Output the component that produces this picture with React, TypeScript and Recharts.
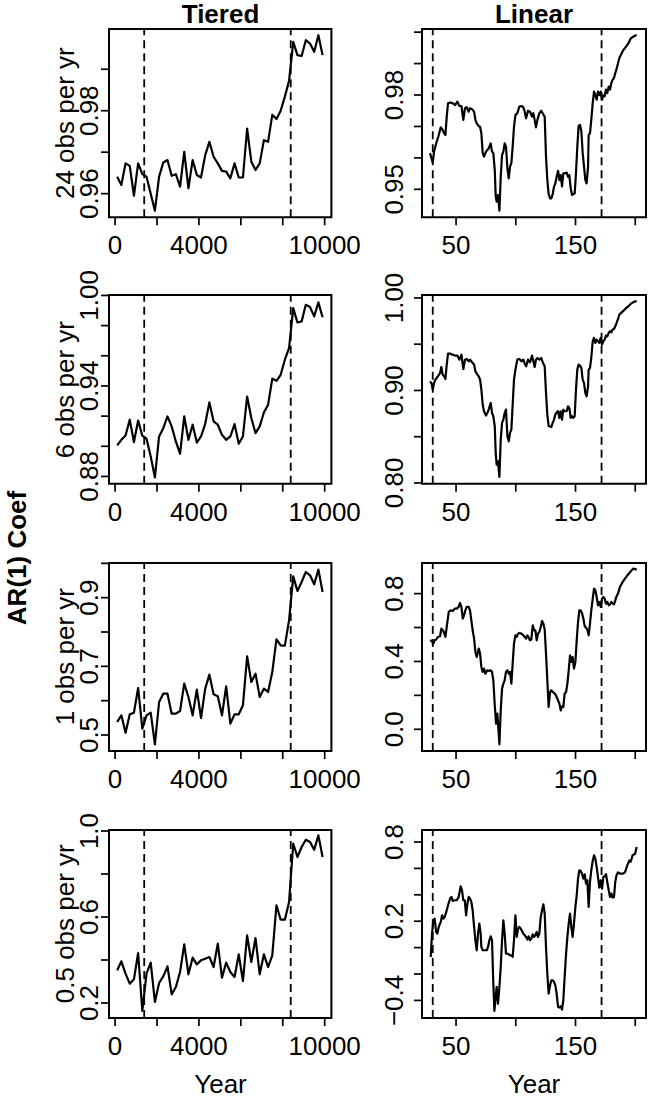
import React from "react";
import { LineChart, Line, XAxis, YAxis, ReferenceLine, ReferenceArea } from "recharts";

const FONT = "'Liberation Sans', Arial, Helvetica, sans-serif";
const FS = 26;

// tiered sampling: one estimate every 200 years
const tieredYears = [
  100, 300, 500, 700, 900, 1100, 1300, 1500, 1700, 1900,
  2100, 2300, 2500, 2700, 2900, 3100, 3300, 3500, 3700, 3900,
  4100, 4300, 4500, 4700, 4900, 5100, 5300, 5500, 5700, 5900,
  6100, 6300, 6500, 6700, 6900, 7100, 7300, 7500, 7700, 7900,
  8100, 8300, 8500, 8700, 8900, 9100, 9300, 9500, 9700, 9900,
];

const tiered24 = [
  0.9641, 0.9621, 0.9673, 0.9667, 0.9595, 0.9673, 0.9647, 0.9641, 0.96, 0.9559,
  0.9641, 0.9675, 0.9681, 0.9643, 0.9647, 0.9617, 0.9701, 0.9613, 0.9681, 0.9645,
  0.9639, 0.9693, 0.9725, 0.9689, 0.9673, 0.9655, 0.9653, 0.9637, 0.9673, 0.9639,
  0.9639, 0.9757, 0.9677, 0.9657, 0.9673, 0.9729, 0.9725, 0.979, 0.978, 0.98,
  0.9834, 0.9872, 0.9966, 0.9934, 0.9932, 0.997, 0.9962, 0.9942, 0.9982, 0.9934,
];

const tiered6 = [
  0.9006, 0.9043, 0.9072, 0.9176, 0.9028, 0.9171, 0.907, 0.905, 0.8933, 0.8793,
  0.9065, 0.912, 0.9198, 0.9132, 0.9032, 0.895, 0.9198, 0.9043, 0.9143, 0.9025,
  0.9065, 0.9149, 0.9291, 0.9165, 0.9143, 0.9076, 0.9043, 0.9065, 0.9147, 0.9017,
  0.9065, 0.933, 0.9187, 0.9087, 0.9132, 0.9224, 0.9275, 0.9448, 0.9434, 0.9474,
  0.9574, 0.9651, 0.9916, 0.9821, 0.9828, 0.9938, 0.9923, 0.9861, 0.9954, 0.9855,
];

const tiered1 = [
  0.5379, 0.5573, 0.5068, 0.5602, 0.5651, 0.6369, 0.5184, 0.5573, 0.5651, 0.4728,
  0.5961, 0.6204, 0.6204, 0.5621, 0.5621, 0.5699, 0.6495, 0.6107, 0.5573, 0.6321,
  0.5495, 0.635, 0.6758, 0.6185, 0.6126, 0.5573, 0.6418, 0.533, 0.5602, 0.5602,
  0.5864, 0.7292, 0.6544, 0.6787, 0.6107, 0.635, 0.6253, 0.6835, 0.7787, 0.7612,
  0.7602, 0.834, 0.9622, 0.9195, 0.9457, 0.9748, 0.9651, 0.9389, 0.9816, 0.9166,
];

const tiered05 = [
  0.3519, 0.3938, 0.3364, 0.2899, 0.3101, 0.4326, 0.1628, 0.3364, 0.3876, 0.2047,
  0.293, 0.324, 0.3705, 0.2403, 0.2744, 0.3442, 0.4729, 0.3333, 0.4108, 0.3798,
  0.3984, 0.4062, 0.4139, 0.3674, 0.4759, 0.3178, 0.3876, 0.3442, 0.3209, 0.4263,
  0.3023, 0.5147, 0.3907, 0.5023, 0.3333, 0.4263, 0.3674, 0.4217, 0.6542, 0.5875,
  0.5875, 0.6697, 0.9409, 0.8789, 0.9254, 0.9595, 0.9487, 0.913, 0.9797, 0.879,
];

// linear sampling: [year, coef]
const linear24: [number, number][] = [
  [28.2, 0.9615], [30.5, 0.9585], [31.6, 0.962], [33.8, 0.9652], [35.2, 0.9668], [37.2, 0.9697],
  [38.8, 0.9689], [40.0, 0.9678], [41.1, 0.9673], [42.2, 0.9731], [43.3, 0.9774], [45.0, 0.9776],
  [47.2, 0.9774], [49.2, 0.9768], [51.1, 0.9779], [52.8, 0.9765], [54.5, 0.9765], [56.1, 0.9721],
  [57.5, 0.9758], [58.9, 0.9761], [60.6, 0.9747], [61.7, 0.9758], [63.4, 0.9755], [65.1, 0.9747],
  [66.2, 0.9721], [67.3, 0.971], [69.0, 0.9701], [70.1, 0.9699], [71.2, 0.9678], [72.3, 0.9615],
  [73.4, 0.9604], [75.1, 0.962], [76.2, 0.9625], [77.3, 0.963], [79.0, 0.9646], [80.1, 0.962],
  [81.2, 0.9615], [82.4, 0.9562], [83.2, 0.9477], [84.0, 0.9461], [85.1, 0.9482], [86.3, 0.9432],
  [87.4, 0.954], [88.5, 0.9609], [89.6, 0.962], [90.7, 0.9646], [91.8, 0.9636], [93.0, 0.9567],
  [94.1, 0.9535], [95.2, 0.9572], [96.3, 0.9583], [97.4, 0.9636], [98.5, 0.9699], [99.7, 0.9736],
  [101.3, 0.9742], [103.0, 0.9763], [104.7, 0.9765], [106.3, 0.9761], [107.5, 0.9747], [108.6, 0.9726],
  [110.3, 0.975], [111.9, 0.9747], [113.6, 0.9731], [114.7, 0.9742], [115.8, 0.9721], [116.9, 0.9697],
  [118.1, 0.9721], [119.7, 0.9742], [121.4, 0.975], [122.5, 0.9742], [124.2, 0.9731], [125.3, 0.9604],
  [126.4, 0.953], [127.5, 0.9485], [128.7, 0.9471], [129.8, 0.9471], [130.9, 0.9485], [132.0, 0.9508],
  [133.1, 0.9519], [134.2, 0.954], [135.4, 0.9559], [136.5, 0.9529], [137.6, 0.9545], [138.7, 0.9509],
  [139.8, 0.9551], [140.9, 0.9551], [142.6, 0.9553], [143.7, 0.954], [144.8, 0.9545], [146.0, 0.9503],
  [147.1, 0.9482], [148.2, 0.9485], [149.3, 0.9487], [150.4, 0.9551], [151.5, 0.9636], [152.6, 0.9702],
  [153.8, 0.9705], [154.9, 0.9684], [156.0, 0.9615], [157.1, 0.9573], [158.2, 0.953], [159.3, 0.9519],
  [160.5, 0.9572], [161.0, 0.9673], [162.1, 0.9678], [163.2, 0.9721], [164.4, 0.9774], [165.5, 0.9811],
  [166.6, 0.98], [167.7, 0.9785], [168.8, 0.9811], [169.9, 0.98], [171.1, 0.9811], [172.2, 0.9785],
  [173.3, 0.9798], [174.4, 0.9796], [175.5, 0.9817], [176.6, 0.9806], [177.8, 0.9827], [178.9, 0.9817],
  [180.0, 0.9838], [181.1, 0.9849], [182.2, 0.9854], [183.3, 0.987], [184.4, 0.9883], [185.6, 0.9902],
  [186.7, 0.9918], [190.0, 0.9943], [192.3, 0.9954], [194.2, 0.9964], [196.2, 0.998], [198.4, 0.9986],
  [201.2, 0.9991],
];

const linear6: [number, number][] = [
  [28.2, 0.9099], [29.6, 0.9074], [30.5, 0.9009], [31.6, 0.9081], [32.7, 0.9117], [33.8, 0.9135],
  [35.2, 0.916], [36.6, 0.9189], [37.7, 0.9254], [38.8, 0.9171], [40.0, 0.9153], [41.1, 0.9124],
  [42.2, 0.9279], [43.3, 0.9398], [45.0, 0.9398], [47.2, 0.9387], [49.2, 0.9377], [51.1, 0.9377],
  [52.8, 0.9333], [54.5, 0.9387], [56.1, 0.9232], [57.5, 0.9333], [58.9, 0.9341], [60.6, 0.9315],
  [61.7, 0.9333], [63.4, 0.9305], [65.1, 0.9279], [66.2, 0.9207], [67.3, 0.9182], [69.0, 0.9153],
  [70.1, 0.9117], [71.2, 0.9009], [72.3, 0.8847], [73.4, 0.8775], [75.1, 0.8728], [76.2, 0.8757],
  [77.3, 0.8793], [79.0, 0.8865], [80.1, 0.8757], [81.2, 0.8721], [82.4, 0.8613], [83.2, 0.8324],
  [84.0, 0.8198], [85.1, 0.8234], [86.3, 0.8065], [87.4, 0.8468], [88.5, 0.8649], [89.6, 0.8685],
  [90.7, 0.8757], [91.8, 0.8793], [93.0, 0.8505], [94.1, 0.845], [95.2, 0.8541], [96.3, 0.8577],
  [97.4, 0.8847], [98.5, 0.9117], [99.7, 0.9225], [101.3, 0.9333], [103.0, 0.9341], [104.7, 0.9315],
  [106.3, 0.9333], [107.5, 0.929], [108.6, 0.9261], [110.3, 0.9333], [111.9, 0.9305], [113.6, 0.9377],
  [114.7, 0.9315], [115.8, 0.9254], [116.9, 0.9333], [118.1, 0.9351], [119.7, 0.9333], [121.4, 0.9351],
  [122.5, 0.9305], [124.2, 0.9261], [125.3, 0.8973], [126.4, 0.8739], [127.5, 0.8613], [128.7, 0.8613],
  [129.8, 0.8605], [130.9, 0.8649], [132.0, 0.8685], [133.1, 0.8739], [134.2, 0.8764], [135.4, 0.8775],
  [136.5, 0.8703], [137.6, 0.8775], [138.7, 0.8685], [139.8, 0.8793], [140.9, 0.8775], [142.6, 0.8775],
  [143.7, 0.8829], [144.8, 0.8811], [146.0, 0.8703], [147.1, 0.8721], [148.2, 0.8703], [149.3, 0.8721],
  [150.4, 0.9009], [151.5, 0.9225], [152.6, 0.9279], [153.8, 0.9268], [154.9, 0.9243], [156.0, 0.9117],
  [157.1, 0.9081], [158.2, 0.8973], [159.3, 0.8937], [160.5, 0.9045], [161.0, 0.9225], [162.1, 0.9243],
  [163.2, 0.9351], [164.4, 0.9532], [165.5, 0.9568], [166.6, 0.9514], [167.7, 0.955], [168.8, 0.9532],
  [169.9, 0.9514], [171.1, 0.9568], [172.2, 0.9495], [173.3, 0.9532], [174.4, 0.955], [175.5, 0.9593],
  [176.6, 0.9586], [177.8, 0.9622], [178.9, 0.964], [180.0, 0.9629], [181.1, 0.9658], [182.2, 0.9665],
  [183.3, 0.9694], [184.4, 0.973], [185.6, 0.9773], [186.7, 0.982], [190.0, 0.986], [192.3, 0.989],
  [194.2, 0.991], [196.2, 0.9935], [198.4, 0.9955], [201.2, 0.9968],
];

const linear1: [number, number][] = [
  [28.2, 0.5248], [29.6, 0.5209], [31.0, 0.5052], [32.1, 0.5248], [33.3, 0.5287], [34.9, 0.5445],
  [36.6, 0.5484], [37.7, 0.5936], [39.4, 0.5799], [41.1, 0.5445], [42.2, 0.6034], [43.9, 0.6919],
  [45.5, 0.7017], [47.2, 0.6978], [48.9, 0.7115], [50.6, 0.7115], [52.2, 0.7214], [53.3, 0.745],
  [54.5, 0.7214], [55.6, 0.6526], [56.7, 0.6722], [57.8, 0.7017], [58.9, 0.7214], [60.6, 0.7214],
  [61.7, 0.7017], [62.8, 0.6428], [63.9, 0.5838], [65.1, 0.5346], [66.2, 0.456], [67.3, 0.4265],
  [69.0, 0.4757], [70.1, 0.4462], [71.2, 0.3676], [72.3, 0.3381], [73.4, 0.3577], [74.5, 0.3283],
  [76.2, 0.3479], [77.9, 0.344], [79.0, 0.3479], [80.1, 0.3381], [81.2, 0.2889], [82.4, 0.1415],
  [83.5, 0.0334], [84.6, 0.0924], [85.7, -0.0256], [86.3, -0.0885], [87.4, 0.112], [88.5, 0.2398],
  [89.6, 0.2693], [90.7, 0.2889], [91.8, 0.3381], [93.0, 0.3479], [94.1, 0.3283], [95.2, 0.3381],
  [96.3, 0.2693], [97.4, 0.3872], [98.5, 0.5052], [99.7, 0.5543], [100.8, 0.5445], [101.9, 0.5641],
  [103.0, 0.5681], [104.7, 0.5641], [106.3, 0.5543], [107.5, 0.5445], [108.6, 0.5346], [109.7, 0.5543],
  [110.8, 0.5405], [111.9, 0.5248], [113.0, 0.5287], [114.2, 0.6133], [115.3, 0.5838], [116.4, 0.5838],
  [117.5, 0.5248], [118.6, 0.5641], [119.7, 0.574], [120.9, 0.6034], [122.0, 0.6388], [123.1, 0.6231],
  [124.2, 0.5877], [125.3, 0.4462], [126.4, 0.2889], [127.5, 0.1317], [128.7, 0.2201], [129.8, 0.23],
  [130.9, 0.2201], [132.0, 0.2143], [133.1, 0.2064], [134.2, 0.1907], [135.4, 0.171], [136.5, 0.1514],
  [137.6, 0.112], [138.7, 0.1356], [139.8, 0.1317], [140.9, 0.2103], [142.1, 0.2201], [143.2, 0.2693],
  [144.3, 0.3479], [145.4, 0.4364], [146.5, 0.3971], [147.6, 0.4265], [148.7, 0.3577], [149.9, 0.3971],
  [151.0, 0.5248], [152.1, 0.6329], [153.2, 0.7017], [154.3, 0.7017], [155.4, 0.686], [156.6, 0.6526],
  [157.7, 0.6074], [158.8, 0.5995], [159.9, 0.5877], [161.0, 0.5543], [162.1, 0.6231], [163.2, 0.7017],
  [164.4, 0.7705], [165.5, 0.8295], [166.6, 0.8197], [167.7, 0.7803], [168.8, 0.7312], [169.9, 0.7509],
  [171.1, 0.7214], [172.2, 0.7705], [173.3, 0.7803], [174.4, 0.7705], [175.5, 0.741], [176.6, 0.7509],
  [177.8, 0.7312], [178.9, 0.7371], [180.0, 0.7509], [181.1, 0.741], [182.2, 0.7371], [183.3, 0.76],
  [184.4, 0.785], [185.6, 0.8], [187.2, 0.84], [189.5, 0.8688], [191.4, 0.8885], [193.4, 0.9081],
  [195.1, 0.9219], [197.0, 0.9376], [198.4, 0.9474], [201.2, 0.9415],
];

const linear05: [number, number][] = [
  [28.8, -0.0707], [29.9, 0.1061], [31.0, 0.2071], [32.1, 0.2197], [33.3, 0.1187], [34.4, 0.1061],
  [35.5, 0.1566], [37.2, 0.1944], [38.3, 0.2449], [39.4, 0.2197], [40.5, 0.2323], [41.6, 0.2626],
  [43.3, 0.3207], [45.0, 0.3712], [46.1, 0.3838], [47.2, 0.3535], [48.9, 0.3586], [50.6, 0.3586],
  [52.2, 0.3838], [53.9, 0.4646], [55.0, 0.4343], [56.1, 0.3586], [57.3, 0.3586], [58.4, 0.2449],
  [59.5, 0.3333], [60.6, 0.3838], [61.7, 0.3712], [62.8, 0.346], [63.9, 0.2828], [65.1, 0.1566],
  [66.2, 0.0556], [67.3, -0.0202], [68.4, 0.1061], [69.5, 0.1818], [70.6, 0.1061], [71.2, 0.0051],
  [72.3, -0.0202], [74.0, -0.0202], [75.7, -0.0202], [76.8, 0.0051], [77.9, 0.0556], [79.0, 0.0859],
  [80.1, 0.0556], [81.2, -0.2727], [82.1, -0.4798], [83.2, -0.3737], [84.0, -0.298], [85.1, -0.4242],
  [86.3, -0.298], [87.4, -0.1465], [88.5, 0.0556], [89.6, 0.2071], [90.7, 0.1061], [91.8, -0.0455],
  [93.0, -0.0455], [94.1, -0.0505], [95.2, -0.0581], [96.3, -0.0581], [97.4, -0.0707], [98.5, 0.0556],
  [99.7, 0.2449], [100.8, 0.0808], [101.9, 0.1439], [103.0, 0.1566], [104.1, 0.1439], [105.2, 0.1263],
  [106.3, 0.1061], [107.5, 0.0934], [108.6, 0.0808], [109.7, 0.0606], [110.8, 0.0859], [111.9, 0.0556],
  [113.0, 0.0682], [114.2, 0.101], [115.3, 0.0808], [116.4, 0.0934], [117.5, 0.1187], [118.6, 0.0808],
  [119.7, 0.1061], [120.9, 0.2323], [122.0, 0.2828], [123.1, 0.3283], [124.2, 0.2576], [125.3, 0.0051],
  [126.4, -0.197], [127.5, -0.3485], [128.7, -0.2854], [129.8, -0.2475], [130.9, -0.2475], [132.0, -0.2601],
  [133.1, -0.2854], [134.2, -0.3485], [135.4, -0.4495], [136.5, -0.4545], [137.6, -0.4444], [138.7, -0.4697],
  [139.8, -0.399], [140.9, -0.2222], [142.1, -0.0455], [143.2, 0.0808], [144.3, 0.1818], [145.4, 0.2576],
  [146.5, 0.1566], [147.6, 0.0808], [148.7, 0.1818], [149.9, 0.3081], [151.0, 0.3965], [152.1, 0.5227],
  [153.2, 0.5859], [154.3, 0.5808], [155.4, 0.5606], [156.6, 0.5227], [157.7, 0.5556], [158.8, 0.4848],
  [159.9, 0.5101], [161.0, 0.3081], [162.1, 0.4975], [163.2, 0.5859], [164.4, 0.6566], [165.5, 0.6995],
  [166.6, 0.6742], [167.7, 0.6111], [168.8, 0.5354], [169.9, 0.4545], [171.1, 0.5101], [172.2, 0.447],
  [173.3, 0.5354], [174.4, 0.5404], [175.5, 0.5556], [176.6, 0.4975], [177.8, 0.4343], [178.9, 0.3838],
  [180.0, 0.4091], [181.1, 0.3788], [182.2, 0.3838], [183.3, 0.5], [184.4, 0.55], [185.6, 0.57],
  [187.2, 0.56], [189.5, 0.56], [191.4, 0.57], [193.4, 0.625], [195.1, 0.66], [196.2, 0.65],
  [197.8, 0.7], [199.8, 0.71], [201.2, 0.763],
];

const tieredCuts = [1390, 8380];
const linearCuts = [30.5, 171.8];

const tieredXTicks = [0, 2000, 4000, 6000, 8000, 10000];
const tieredXLabels = [0, 4000, 10000];
const linearXTicks = [50, 100, 150, 200];
const linearXLabels = [50, 150];

const rowNames = ["24 obs per yr", "6 obs per yr", "1 obs per yr", "0.5 obs per yr"];

type Box = { x: number; y: number; w: number; h: number };

type PanelProps = {
  data: { year: number; v: number }[];
  box: Box;
  mr: number;
  xDomain: [number, number];
  xTicks: number[];
  xLabels: number[];
  yDomain: [number, number];
  yTicks: number[];
  yLabels: number[];
  digits: number;
  yGap: number;
  cuts: number[];
};

const YW = 100;
const XH = 60;
const MT = 34;

const fmt = (v: number, d: number) =>
  v < 0 ? "\u2212" + Math.abs(v).toFixed(d) : v.toFixed(d);

const has = (list: number[], v: number) => list.some((s) => Math.abs(s - v) < 1e-9);

function Panel(p: PanelProps) {
  const { box } = p;
  const tl = { stroke: "#000", strokeWidth: 1.7 };
  return (
    <div style={{ position: "absolute", left: box.x - YW, top: box.y - MT }}>
      <LineChart
        width={YW + box.w + p.mr}
        height={MT + box.h + XH}
        data={p.data}
        margin={{ top: MT, right: p.mr, bottom: 0, left: 0 }}
      >
        <XAxis
          dataKey="year"
          type="number"
          domain={p.xDomain}
          allowDataOverflow
          ticks={p.xTicks}
          interval={0}
          height={XH}
          axisLine={false}
          tickSize={8}
          tickMargin={0}
          tickLine={tl}
          tick={(t: any) =>
            has(p.xLabels, t.payload.value) ? (
              <text x={t.x} y={t.y + 29} textAnchor="middle" fontSize={FS} fontFamily={FONT} fill="#000">
                {String(t.payload.value)}
              </text>
            ) : (
              <g />
            )
          }
        />
        <YAxis
          type="number"
          domain={p.yDomain}
          allowDataOverflow
          ticks={p.yTicks}
          interval={0}
          width={YW}
          axisLine={false}
          tickSize={8}
          tickMargin={0}
          tickLine={tl}
          tick={(t: any) => {
            if (!has(p.yLabels, t.payload.value)) return <g />;
            const x = t.x - p.yGap;
            return (
              <text
                x={x}
                y={t.y}
                transform={`rotate(-90 ${x} ${t.y})`}
                textAnchor="middle"
                fontSize={FS}
                fontFamily={FONT}
                fill="#000"
              >
                {fmt(t.payload.value, p.digits)}
              </text>
            );
          }}
        />
        <ReferenceArea
          x1={p.xDomain[0]}
          x2={p.xDomain[1]}
          y1={p.yDomain[0]}
          y2={p.yDomain[1]}
          fill="none"
          fillOpacity={0}
          stroke="#000"
          strokeWidth={2}
          ifOverflow="visible"
        />
        {p.cuts.map((c) => (
          <ReferenceLine key={c} x={c} stroke="#000" strokeWidth={1.8} strokeDasharray="8 5" />
        ))}
        <Line
          dataKey="v"
          type="linear"
          stroke="#000"
          strokeWidth={2.2}
          strokeLinejoin="round"
          dot={false}
          activeDot={false}
          isAnimationActive={false}
        />
      </LineChart>
    </div>
  );
}

const rows = [
  { y: 29, h: 188.3 },
  { y: 295.3, h: 188.7 },
  { y: 562.7, h: 188 },
  { y: 829.7, h: 188.1 },
];
const leftCol = { x: 109.3, w: 222.4 };
const rightCol = { x: 422, w: 224 };

const tieredSeries = [tiered24, tiered6, tiered1, tiered05];
const linearSeries = [linear24, linear6, linear1, linear05];

const tieredY: { domain: [number, number]; ticks: number[]; labels: number[]; digits: number }[] = [
  { domain: [0.9543, 0.9997], ticks: [0.96, 0.97, 0.98, 0.99], labels: [0.96, 0.98], digits: 2 },
  { domain: [0.8752, 1.0003], ticks: [0.88, 0.9, 0.92, 0.94, 0.96, 0.98, 1.0], labels: [0.88, 0.94, 1.0], digits: 2 },
  { domain: [0.4534, 1.001], ticks: [0.5, 0.6, 0.7, 0.8, 0.9, 1.0], labels: [0.5, 0.7, 0.9], digits: 1 },
  { domain: [0.1298, 1.0047], ticks: [0.2, 0.4, 0.6, 0.8, 1.0], labels: [0.2, 0.6, 1.0], digits: 1 },
];

const linearY: { domain: [number, number]; ticks: number[]; labels: number[]; digits: number }[] = [
  { domain: [0.9411, 1.001], ticks: [0.95, 0.96, 0.97, 0.98, 0.99, 1.0], labels: [0.95, 0.98], digits: 2 },
  { domain: [0.7992, 1.0032], ticks: [0.8, 0.85, 0.9, 0.95, 1.0], labels: [0.8, 0.9, 1.0], digits: 2 },
  { domain: [-0.128, 0.9805], ticks: [0, 0.2, 0.4, 0.6, 0.8], labels: [0, 0.4, 0.8], digits: 1 },
  { domain: [-0.534, 0.891], ticks: [-0.4, -0.2, 0, 0.2, 0.4, 0.6, 0.8], labels: [-0.4, 0.2, 0.8], digits: 1 },
];

export default function App() {
  return (
    <div
      style={{
        position: "absolute",
        left: 0,
        top: 0,
        width: 650,
        height: 1103,
        overflow: "hidden",
        background: "#fff",
        fontFamily: FONT,
      }}
    >
      {rows.map((r, i) => (
        <React.Fragment key={i}>
          <Panel
            data={tieredYears.map((year, k) => ({ year, v: tieredSeries[i][k] }))}
            box={{ x: leftCol.x, y: r.y, w: leftCol.w, h: r.h }}
            mr={45}
            xDomain={[-290, 10320]}
            xTicks={tieredXTicks}
            xLabels={tieredXLabels}
            yDomain={tieredY[i].domain}
            yTicks={tieredY[i].ticks}
            yLabels={tieredY[i].labels}
            digits={tieredY[i].digits}
            yGap={3}
            cuts={tieredCuts}
          />
          <Panel
            data={linearSeries[i].map(([year, v]) => ({ year, v }))}
            box={{ x: rightCol.x, y: r.y, w: rightCol.w, h: r.h }}
            mr={3}
            xDomain={[21.5, 209]}
            xTicks={linearXTicks}
            xLabels={linearXLabels}
            yDomain={linearY[i].domain}
            yTicks={linearY[i].ticks}
            yLabels={linearY[i].labels}
            digits={linearY[i].digits}
            yGap={11}
            cuts={linearCuts}
          />
        </React.Fragment>
      ))}
      <svg
        width={650}
        height={1103}
        style={{ position: "absolute", left: 0, top: 0, pointerEvents: "none" }}
      >
        <text x={leftCol.x + leftCol.w / 2} y={23} textAnchor="middle" fontSize={FS} fontWeight="bold" fontFamily={FONT}>
          Tiered
        </text>
        <text x={rightCol.x + rightCol.w / 2} y={23} textAnchor="middle" fontSize={FS} fontWeight="bold" fontFamily={FONT}>
          Linear
        </text>
        {rows.map((r, i) => {
          const cy = r.y + r.h / 2;
          return (
            <text
              key={i}
              x={74}
              y={cy}
              transform={`rotate(-90 74 ${cy})`}
              textAnchor="middle"
              fontSize={FS}
              fontFamily={FONT}
            >
              {rowNames[i]}
            </text>
          );
        })}
        <text x={26} y={558} transform="rotate(-90 26 558)" textAnchor="middle" fontSize={FS} fontWeight="bold" fontFamily={FONT}>
          AR(1) Coef
        </text>
        <text x={leftCol.x + leftCol.w / 2} y={1093} textAnchor="middle" fontSize={FS} fontFamily={FONT}>
          Year
        </text>
        <text x={rightCol.x + rightCol.w / 2} y={1093} textAnchor="middle" fontSize={FS} fontFamily={FONT}>
          Year
        </text>
      </svg>
    </div>
  );
}
